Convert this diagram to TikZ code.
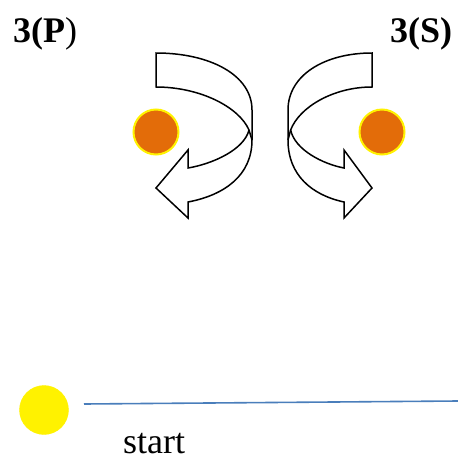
\documentclass[tikz,border=0pt]{standalone}
\usepackage{fontspec}
\setmainfont{Liberation Serif}
\definecolor{dot}{HTML}{E36C09}
\definecolor{lineblue}{HTML}{4A7EBB}
\tikzset{
  twist/.style={draw=black, fill=white, line width=1.5pt, line join=miter},
  orangedot/.style={circle, fill=dot, draw=yellow, line width=2pt, minimum size=45pt, inner sep=0pt},
  sundot/.style={circle, fill=yellow, draw=yellow, minimum size=49pt, inner sep=0pt},
  lbl/.style={anchor=base west, inner sep=0pt, font=\fontsize{36}{40}\selectfont}
}
\newcommand{\twistarrow}{%
  \path[twist] (0,53) .. controls (54,53) and (96,75) .. (96,110) -- (96,140)
    .. controls (96,175) and (69,195) .. (32,202) -- (32,218) -- (0,188) -- (32,150) -- (32,168)
    .. controls (56,164) and (88,150) .. (93,130)
    .. controls (83,107) and (44,87) .. (0,87) -- cycle;
  \draw[line width=1.5pt] (93,130) -- (96,140);
}
\begin{document}
\begin{tikzpicture}[x=1pt,y=-1pt]
\useasboundingbox (0,0) rectangle (458,461);
\begin{scope}[xshift=156pt]
  \twistarrow
\end{scope}
\begin{scope}[xshift=372pt, xscale=-0.875]
  \twistarrow
\end{scope}
\node[orangedot] (pdot) at (156,132) {};
\node[orangedot] (sdot) at (382,132) {};
\node[sundot] (sun) at (44,410) {};
\coordinate (l1) at (84,404);
\coordinate (l2) at (458,401);
\draw[lineblue, line width=1.6pt] (l1) -- (l2);
\node[lbl] (p) at (13,42) {\textbf{3(P}{)}};
\node[lbl] (s) at (390,42) {\textbf{3(S)}};
\node[lbl] (st) at (123,453) {start};
\end{tikzpicture}
\end{document}
